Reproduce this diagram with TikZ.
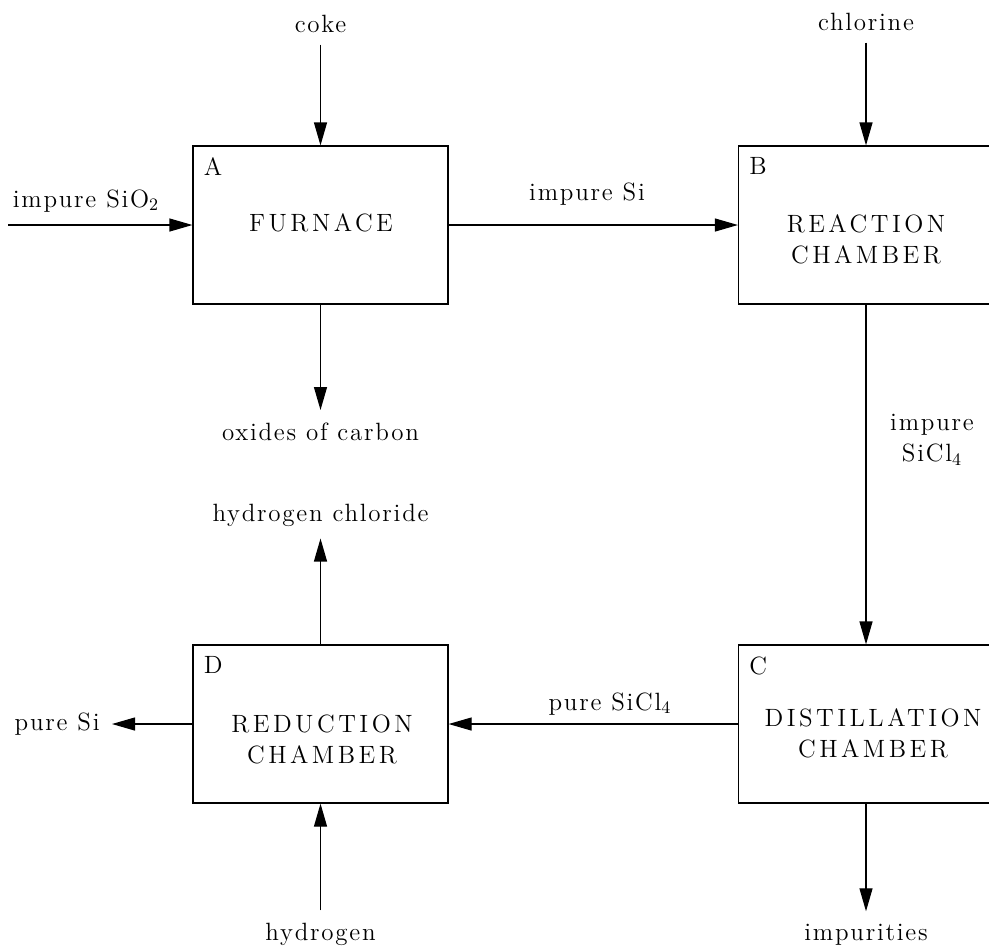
\documentclass[tikz,border=0pt]{standalone}
\usepackage{fontspec}
\setmainfont{Latin Modern Roman}[LetterSpace=7]
\usetikzlibrary{arrows.meta}
\tikzset{
  unit/.style={draw, line width=0.6pt, minimum width=127.5pt, minimum height=79pt, inner sep=0pt},
  unitname/.style={font=\fontsize{12.5}{15.5}\selectfont\addfontfeatures{LetterSpace=14}, align=center, inner sep=0pt},
  tag/.style={anchor=north west, inner sep=0pt, font=\fontsize{12.5}{15.5}\selectfont},
  stream/.style={font=\fontsize{12.5}{15.5}\selectfont, inner sep=6pt},
  flow/.style={->, line width=0.6pt},
}

\begin{document}
\begin{tikzpicture}[x=0.5pt, y=-0.5pt, >={Triangle[length=11.5pt,width=6.5pt]}]
\useasboundingbox (0,0) rectangle (989,950);
\node[unit] (furnace) at (320.5,225) {};
\node[unit] (reactor) at (866,225) {};
\node[unit] (still) at (866,724) {};
\node[unit] (reducer) at (320.5,724) {};

\node[unitname] (furnacename) at (321,223) {FURNACE};
\node[unitname] (reactorname) at (866,239) {REACTION\\CHAMBER};
\node[unitname] (stillname) at (873,733) {DISTILLATION\\CHAMBER};
\node[unitname] (reducername) at (322,739) {REDUCTION\\CHAMBER};

\node[tag] (tagA) at ([shift={(11,12)}]furnace.north west) {A};
\node[tag] (tagB) at ([shift={(11,12)}]reactor.north west) {B};
\node[tag] (tagC) at ([shift={(11,12)}]still.north west) {C};
\node[tag] (tagD) at ([shift={(11,12)}]reducer.north west) {D};

\coordinate (feed) at (8,225);
\node[stream, anchor=base] (coke) at (320.5,32) {coke};
\node[stream, anchor=base] (chlorine) at (866,30) {chlorine};
\node[stream, anchor=base] (impsio) at (86,207) {impure SiO\textsubscript{2}};
\node[stream, anchor=base] (impsi) at (587,200) {impure Si};
\node[stream, anchor=base] (oxides) at (320.5,440) {oxides of carbon};
\node[stream, align=center] (impsicl) at (932,440) {impure\\SiCl\textsubscript{4}};
\node[stream, anchor=base] (hcl) at (320.5,521) {hydrogen chloride};
\node[stream, anchor=base] (puresicl) at (610,710) {pure SiCl\textsubscript{4}};
\node[stream, anchor=east] (puresi) at (112,724) {pure Si};
\node[stream, anchor=base] (hydrogen) at (320.5,940) {hydrogen};
\node[stream, anchor=base] (impurities) at (866,940) {impurities};

\draw[flow] (coke) -- (furnace);
\draw[flow] (feed) -- (furnace);
\draw[flow] (furnace) -- (oxides);
\draw[flow] (furnace) -- (reactor);
\draw[flow] (chlorine) -- (reactor);
\draw[flow] (reactor) -- (still);
\draw[flow] (still) -- (impurities);
\draw[flow] (still) -- (reducer);
\draw[flow] (reducer) -- (puresi);
\draw[flow] (reducer) -- (hcl);
\draw[flow] (hydrogen) -- (reducer);
\end{tikzpicture}
\end{document}
